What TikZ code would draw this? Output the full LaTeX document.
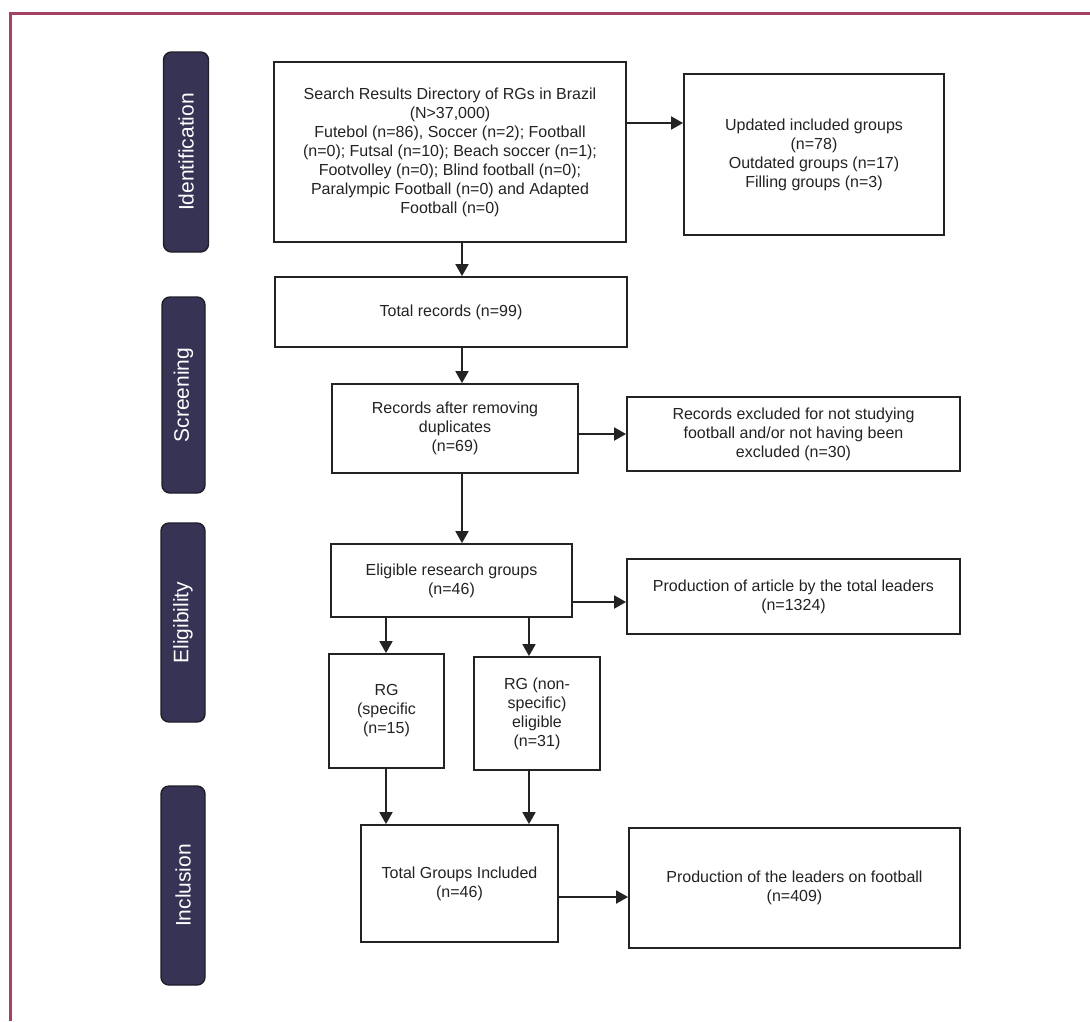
\documentclass[tikz,border=0pt]{standalone}
\usepackage{fontspec}
\setmainfont{Liberation Sans}
\usetikzlibrary{arrows.meta}
\definecolor{framecol}{RGB}{166,64,100}
\definecolor{stagefill}{RGB}{54,51,84}
\definecolor{stageline}{RGB}{30,30,40}
\definecolor{ink}{RGB}{35,35,35}
\newcommand{\boxfont}{\fontsize{16}{19}\selectfont}
\newcommand{\stagefont}{\fontsize{21}{25}\selectfont}
\tikzset{
  box/.style={draw=ink, line width=1.8pt, fill=white, align=center, inner sep=0pt, font=\boxfont, text=ink},
  stage/.style={draw=stageline, fill=stagefill, line width=1.4pt, rounded corners=8pt, text=white, font=\stagefont, inner sep=0pt, rotate=90},
  arr/.style={draw=ink, line width=1.8pt, -{Triangle[length=12pt,width=13pt]}},
}
\begin{document}
\begin{tikzpicture}[x=1pt,y=-1pt]
\useasboundingbox (0,0) rectangle (1090,1021);
% frame (cropped)
\draw[framecol, line width=3pt] (10,1021) -- (10,13) -- (1090,13);
% stage labels
\node[stage, minimum width=200, minimum height=45] (s1) at (186,152) {Identification};
\node[stage, minimum width=196, minimum height=43] (s2) at (183.5,395) {Screening};
\node[stage, minimum width=199, minimum height=44] (s3) at (183,622.5) {Eligibility};
\node[stage, minimum width=199, minimum height=44] (s4) at (183,885.5) {Inclusion};
% boxes
\node[box, minimum width=352, minimum height=180] (A) at (450,152) {Search Results Directory of RGs in Brazil\\(N>37,000)\\Futebol (n=86), Soccer (n=2); Football\\(n=0); Futsal (n=10); Beach soccer (n=1);\\Footvolley (n=0); Blind football (n=0);\\Paralympic Football (n=0) and Adapted\\Football (n=0)};
\node[box, minimum width=260, minimum height=161] (B) at (814,154.5) {Updated included groups\\(n=78)\\Outdated groups (n=17)\\Filling groups (n=3)};
\node[box, minimum width=352, minimum height=70] (C) at (451,312) {Total records (n=99)};
\node[box, minimum width=246, minimum height=89] (D) at (455,428.5) {Records after removing\\duplicates\\(n=69)};
\node[box, minimum width=333, minimum height=74] (E) at (793.5,434) {Records excluded for not studying\\football and/or not having been\\excluded (n=30)};
\node[box, minimum width=241, minimum height=73] (F) at (451.5,580.5) {Eligible research groups\\(n=46)};
\node[box, minimum width=333, minimum height=75] (G) at (793.5,596.5) {Production of article by the total leaders\\(n=1324)};
\node[box, minimum width=115, minimum height=114] (H) at (386.5,711) {RG\\(specific\\(n=15)};
\node[box, minimum width=126, minimum height=113] (I) at (537,713.5) {RG (non-\\specific)\\eligible\\(n=31)};
\node[box, minimum width=197, minimum height=117] (J) at (459.5,883.5) {Total Groups Included\\(n=46)};
\node[box, minimum width=331, minimum height=120] (K) at (794.5,888) {Production of the leaders on football\\(n=409)};
% guide coordinates
\coordinate (xm) at (462,0);
\coordinate (xl) at (386,0);
\coordinate (xr) at (529,0);
\coordinate (yab) at (0,123);
\coordinate (yde) at (0,434);
\coordinate (yfg) at (0,602);
\coordinate (yjk) at (0,897);
% connectors
\draw[arr] (A.east |- yab) -- (B.west |- yab);
\draw[arr] (A.south -| xm) -- (C.north -| xm);
\draw[arr] (C.south -| xm) -- (D.north -| xm);
\draw[arr] (D.east |- yde) -- (E.west |- yde);
\draw[arr] (D.south -| xm) -- (F.north -| xm);
\draw[arr] (F.east |- yfg) -- (G.west |- yfg);
\draw[arr] (F.south -| xl) -- (H.north -| xl);
\draw[arr] (F.south -| xr) -- (I.north -| xr);
\draw[arr] (H.south -| xl) -- (J.north -| xl);
\draw[arr] (I.south -| xr) -- (J.north -| xr);
\draw[arr] (J.east |- yjk) -- (K.west |- yjk);
\end{tikzpicture}
\end{document}
